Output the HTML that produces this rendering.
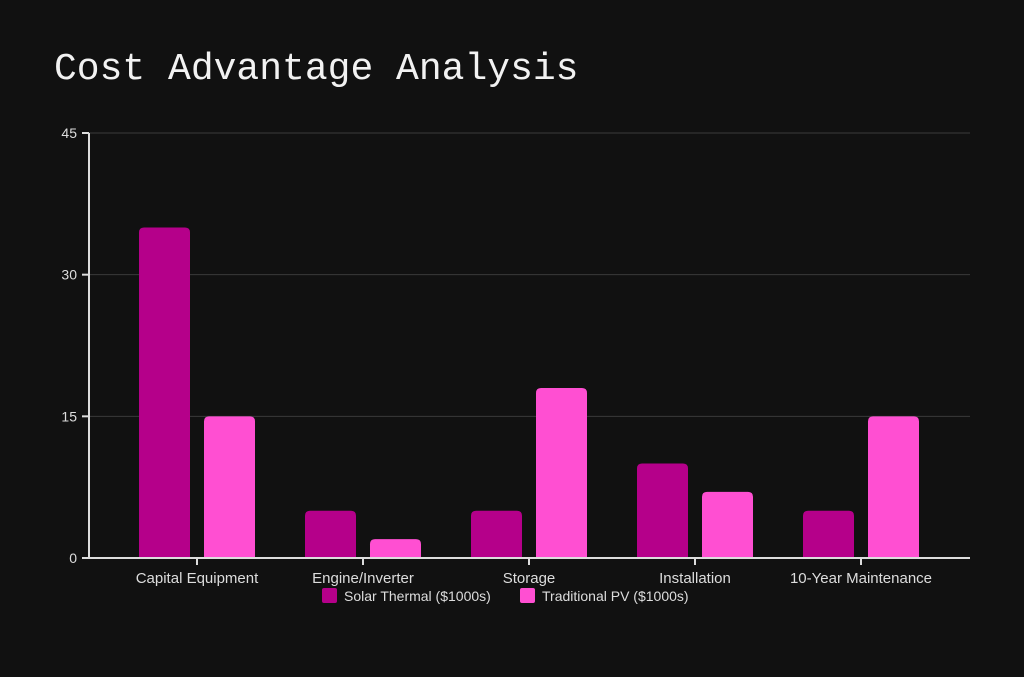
<!DOCTYPE html>
<html><head><meta charset="utf-8"><style>
html,body{margin:0;padding:0;background:#111111;}
svg{display:block;}
text{font-family:"Liberation Sans",sans-serif;}
</style></head><body>
<svg id="chart" width="1024" height="677" viewBox="0 0 1024 677">
<rect x="0" y="0" width="1024" height="677" fill="#111111"/>
<text x="54" y="79" font-family="Liberation Mono, monospace" style="font-family:'Liberation Mono',monospace" font-size="38" fill="#f2f2f2">Cost Advantage Analysis</text>
<g id="grid"></g>
<g id="bars"></g>
<g id="axes"></g>
<g id="legend"></g>
</svg>
<script>
const categories = ["Capital Equipment","Engine/Inverter","Storage","Installation","10-Year Maintenance"];
const solarThermal = [35,5,5,10,5];
const traditionalPV = [15,2,18,7,15];
const yTicks = [0,15,30,45];
const seriesNames = ["Solar Thermal ($1000s)","Traditional PV ($1000s)"];

const NS="http://www.w3.org/2000/svg";
const plotL=89, plotR=970, plotT=133, plotB=558, yMax=45;
const bandStart=114, band=166, barW=51, gap=14;
const colors=["#b5008a","#ff4fd2"];
function y(v){return plotB-(v/yMax)*(plotB-plotT);}
function xc(i){return bandStart+band*i+band/2;}
function mk(tag,attrs,parent){const e=document.createElementNS(NS,tag);for(const k in attrs)e.setAttribute(k,attrs[k]);parent.appendChild(e);return e;}
const grid=document.getElementById('grid'),bars=document.getElementById('bars'),axes=document.getElementById('axes'),legend=document.getElementById('legend');

yTicks.forEach(t=>{
  if(t>0){const g=mk('line',{x1:plotL,x2:plotR,y1:y(t),y2:y(t),stroke:'#3a3a3a','stroke-width':1},grid);
  
  }
  const tk=mk('line',{x1:plotL-7,x2:plotL,y1:y(t),y2:y(t),stroke:'#dddddd','stroke-width':2},axes);
  
  
  const lb=mk('text',{x:plotL-12,y:y(t)+5,'text-anchor':'end','font-size':14,fill:'#dddddd'},axes);
  lb.textContent=t;
  
  
});

function barPath(x,top,w,bottom){const r=Math.min(5,(bottom-top)/2);return `M${x},${bottom}V${top+r}Q${x},${top} ${x+r},${top}H${x+w-r}Q${x+w},${top} ${x+w},${top+r}V${bottom}Z`;}
categories.forEach((c,i)=>{
  const cx=xc(i);
  const x1=cx-gap/2-barW, x2=cx+gap/2;
  const b1=mk('path',{d:barPath(x1,y(solarThermal[i]),barW,plotB),fill:colors[0]},bars);
  
  
  const b2=mk('path',{d:barPath(x2,y(traditionalPV[i]),barW,plotB),fill:colors[1]},bars);
  
  
  const tk=mk('line',{x1:cx,x2:cx,y1:plotB,y2:plotB+7,stroke:'#dddddd','stroke-width':2},axes);
  
  
  const lb=mk('text',{x:cx,y:plotB+25,'text-anchor':'middle','font-size':15,fill:'#dddddd'},axes);
  lb.textContent=c;
  
  
});
const ya=mk('line',{x1:plotL,x2:plotL,y1:plotT,y2:plotB+1,stroke:'#dddddd','stroke-width':2},axes);


const xa=mk('line',{x1:plotL-1,x2:plotR,y1:plotB,y2:plotB,stroke:'#dddddd','stroke-width':2},axes);



const lx=[322,520];
seriesNames.forEach((n,i)=>{
  const sw=mk('rect',{x:lx[i],y:588,width:15,height:15,rx:2,fill:colors[i]},legend);
  
  
  const t=mk('text',{x:lx[i]+22,y:601,'font-size':14,fill:'#dddddd'},legend);
  t.textContent=n;
  
  
});
</script>
</body></html>
